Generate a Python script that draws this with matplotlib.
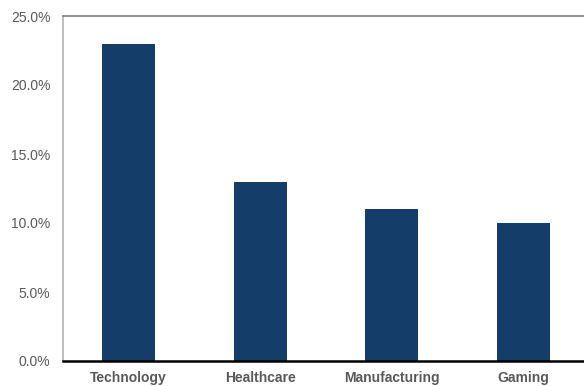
import matplotlib
matplotlib.use("Agg")
import matplotlib.pyplot as plt
from matplotlib.ticker import PercentFormatter

categories = ["Technology", "Healthcare", "Manufacturing", "Gaming"]
shares = [23.0, 13.0, 11.0, 10.0]
yticks = [0, 5, 10, 15, 20, 25]

plt.rcParams["font.family"] = ["Liberation Sans", "DejaVu Sans"]

fig = plt.figure(figsize=(5.84, 3.86), dpi=100)
ax = fig.add_axes([63 / 584, 25 / 386, 526 / 584, 345 / 386])

x = list(range(len(categories)))
ax.bar(x, shares, width=0.4, color="#143d69", zorder=2)

ax.set_xlim(-0.5, 3.5)
ax.set_ylim(0, 25)
ax.set_yticks(yticks)
ax.yaxis.set_major_formatter(PercentFormatter(decimals=1))
ax.set_xticks(x)
ax.set_xticklabels(categories, fontweight="bold")

ax.tick_params(axis="y", length=0, pad=9, labelsize=10, labelcolor="#595959")
ax.tick_params(axis="x", length=0, pad=7, labelsize=10, labelcolor="#595959")

ax.spines["top"].set_color("#7f7f7f")
ax.spines["top"].set_linewidth(1.2)
ax.spines["left"].set_color("#b3b3b3")
ax.spines["left"].set_linewidth(1.2)
ax.spines["bottom"].set_color("#000000")
ax.spines["bottom"].set_linewidth(1.8)
ax.spines["right"].set_visible(False)

fig.savefig("out.png", dpi=100)
